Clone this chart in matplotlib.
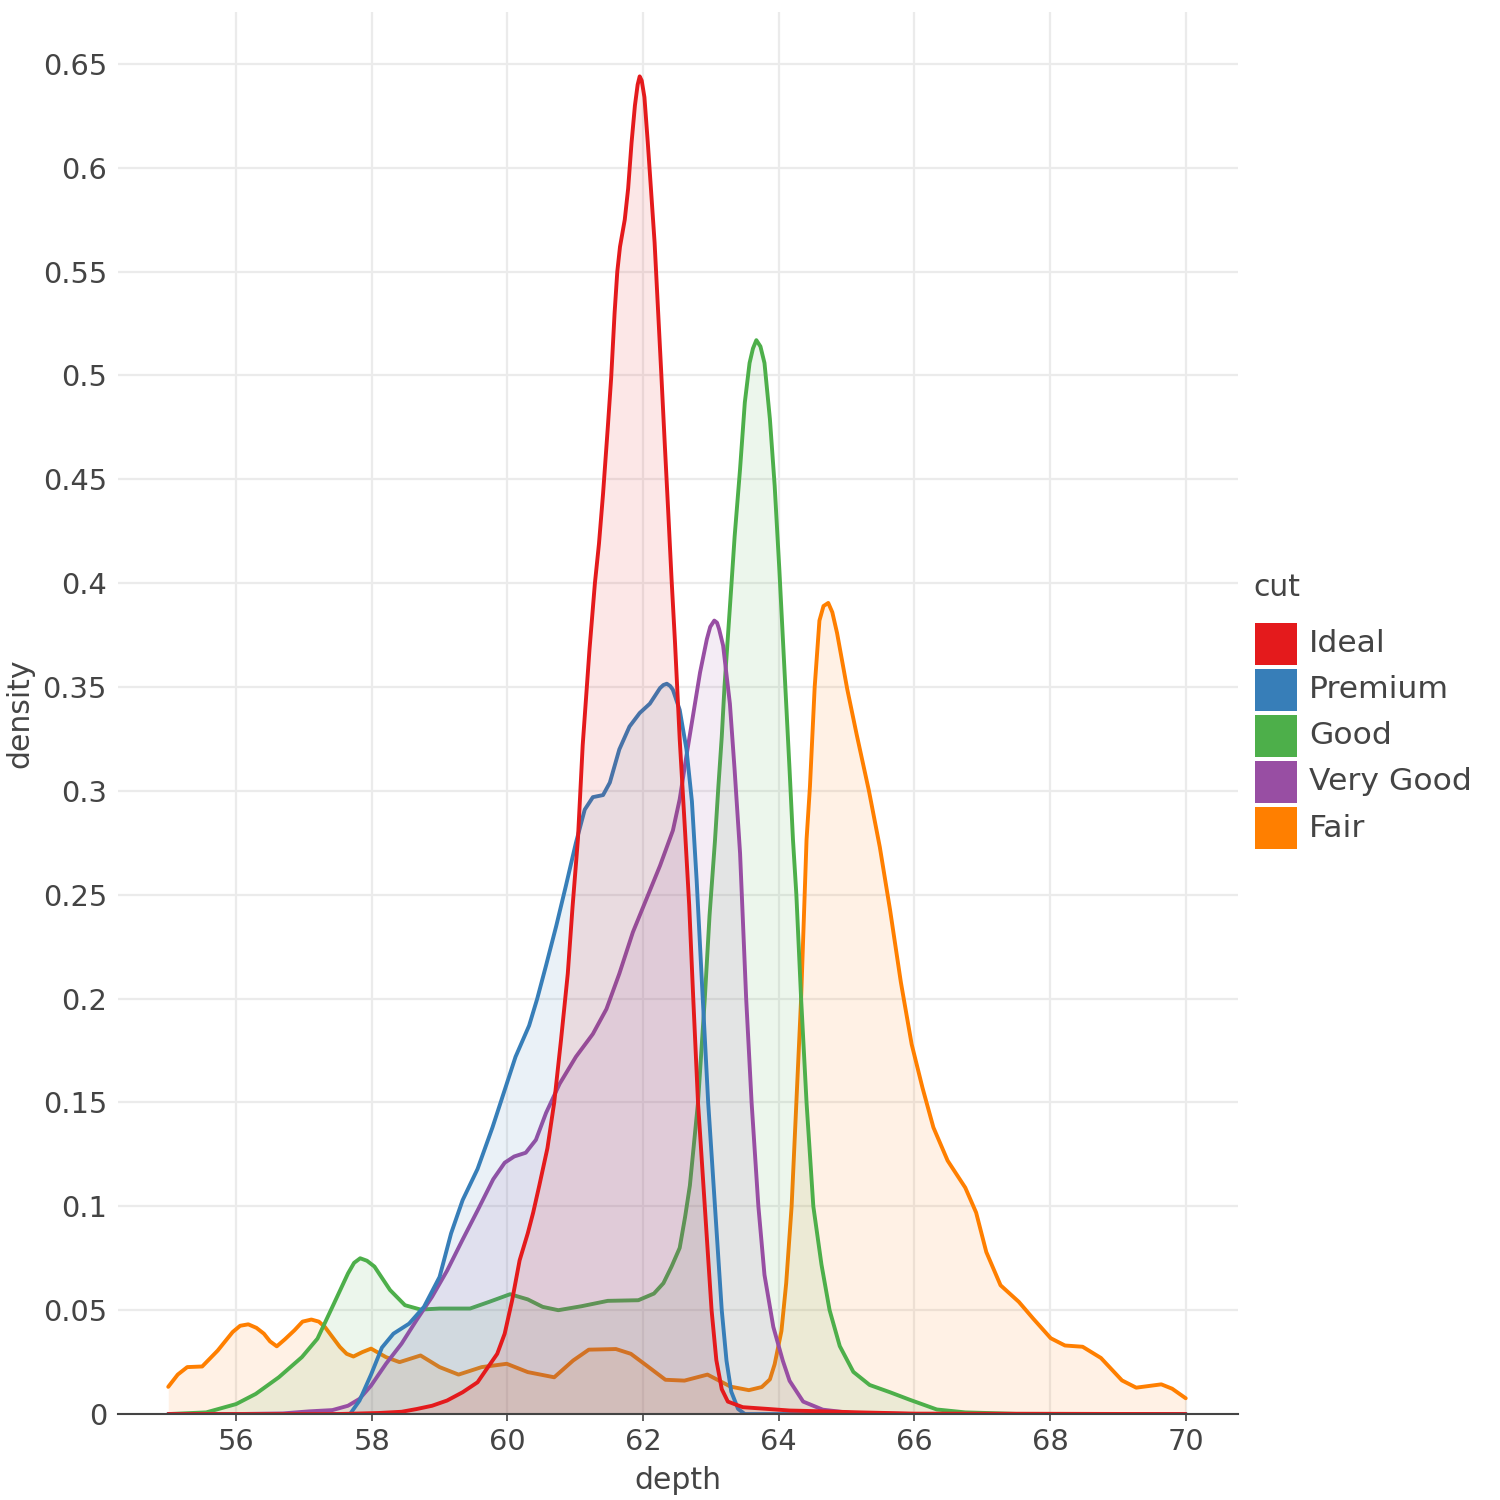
import matplotlib
matplotlib.use("Agg")
import matplotlib.pyplot as plt
from matplotlib.patches import Rectangle

# density of diamond depth by cut
ideal_x = [55.0, 57.5, 58.1, 58.44, 58.66, 58.89, 59.11, 59.34, 59.56, 59.68, 59.85,
           59.96, 60.07, 60.18, 60.30, 60.38, 60.47, 60.59, 60.69, 60.79, 60.89,
           60.96, 61.04, 61.11, 61.21, 61.29, 61.35, 61.41, 61.48, 61.53, 61.58,
           61.62, 61.66, 61.73, 61.78, 61.83, 61.88, 61.92, 61.95, 61.98, 62.02,
           62.07, 62.12, 62.17, 62.22, 62.27, 62.32, 62.37, 62.42, 62.47, 62.54,
           62.62, 62.68, 62.74, 62.81, 62.91, 63.01, 63.08, 63.16, 63.25, 63.47,
           63.82, 64.16, 64.65, 65.2, 66.0, 70.0]
ideal_y = [0.0, 0.0, 0.0005, 0.0011, 0.0024, 0.004, 0.0065, 0.0105, 0.0153, 0.021, 0.029,
           0.0387, 0.0548, 0.074, 0.087, 0.097, 0.110, 0.128, 0.15, 0.18, 0.212,
           0.244, 0.277, 0.322, 0.368, 0.400, 0.419, 0.443, 0.475, 0.499, 0.530,
           0.550, 0.562, 0.575, 0.590, 0.612, 0.630, 0.640, 0.644, 0.642, 0.634,
           0.612, 0.588, 0.564, 0.532, 0.5, 0.467, 0.435, 0.402, 0.372, 0.325,
           0.28, 0.245, 0.2, 0.15, 0.1, 0.05, 0.026, 0.012, 0.006, 0.0033,
           0.0025, 0.0017, 0.0013, 0.0008, 0.0002, 0.0]

premium_x = [55.0, 57.68, 57.82, 57.99, 58.15, 58.32, 58.55, 58.77, 59.0, 59.17, 59.34,
             59.56, 59.78, 59.98, 60.12, 60.32, 60.44, 60.57, 60.72, 60.86, 61.01,
             61.14, 61.26, 61.41, 61.51, 61.65, 61.80, 61.95, 62.10, 62.25, 62.30,
             62.35, 62.40, 62.44, 62.54, 62.64, 62.72, 62.79, 62.88, 62.96, 63.06,
             63.16, 63.23, 63.30, 63.40, 63.5, 70.0]
premium_y = [0.0, 0.0, 0.0065, 0.019, 0.032, 0.0387, 0.0435, 0.0516, 0.066, 0.087, 0.103,
             0.118, 0.138, 0.158, 0.172, 0.187, 0.2, 0.216, 0.235, 0.254, 0.275,
             0.291, 0.297, 0.298, 0.304, 0.32, 0.331, 0.3375, 0.342, 0.3495, 0.351,
             0.3516, 0.3505, 0.3487, 0.339, 0.32, 0.295, 0.257, 0.2, 0.15, 0.1,
             0.05, 0.0257, 0.0108, 0.0025, 0.0, 0.0]

good_x = [55.0, 55.56, 56.0, 56.29, 56.63, 56.97, 57.20, 57.42, 57.65, 57.74, 57.83,
          57.93, 58.04, 58.27, 58.49, 58.72, 59.0, 59.45, 59.73, 60.04, 60.30,
          60.52, 60.75, 61.09, 61.48, 61.93, 62.16, 62.30, 62.42, 62.54, 62.62,
          62.69, 62.75, 62.81, 62.91, 62.98, 63.06, 63.11, 63.16, 63.20, 63.25,
          63.30, 63.35, 63.43, 63.50, 63.57, 63.62, 63.67, 63.73, 63.79, 63.87,
          63.94, 64.01, 64.06, 64.11, 64.16, 64.21, 64.26, 64.33, 64.41, 64.51,
          64.63, 64.75, 64.90, 65.10, 65.34, 65.64, 65.93, 66.33, 66.75, 67.5, 70.0]
good_y = [0.0, 0.0008, 0.0048, 0.0097, 0.0177, 0.0274, 0.0363, 0.0516, 0.0677, 0.0728, 0.075,
          0.0738, 0.071, 0.0597, 0.0524, 0.0503, 0.0508, 0.0508, 0.054, 0.0577, 0.0552,
          0.0516, 0.05, 0.0519, 0.0545, 0.0548, 0.058, 0.063, 0.071, 0.08, 0.095,
          0.11, 0.13, 0.15, 0.2, 0.24, 0.276, 0.302, 0.326, 0.350, 0.374,
          0.398, 0.4225, 0.455, 0.487, 0.506, 0.513, 0.517, 0.514, 0.506, 0.479,
          0.447, 0.406, 0.374, 0.342, 0.31, 0.2765, 0.25, 0.2, 0.15, 0.1,
          0.072, 0.05, 0.0327, 0.0203, 0.014, 0.0105, 0.0069, 0.0022, 0.0008, 0.0001, 0.0]

verygood_x = [55.0, 56.0, 56.69, 57.08, 57.42, 57.65, 57.82, 57.99, 58.21, 58.44, 58.66,
              58.89, 59.11, 59.34, 59.56, 59.79, 59.96, 60.10, 60.27, 60.42, 60.57,
              60.77, 61.01, 61.26, 61.46, 61.65, 61.85, 62.05, 62.25, 62.44, 62.54,
              62.64, 62.74, 62.84, 62.94, 62.99, 63.05, 63.09, 63.12, 63.18, 63.28,
              63.35, 63.43, 63.52, 63.60, 63.70, 63.79, 63.92, 64.06, 64.16, 64.36,
              64.65, 65.07, 66.0, 70.0]
verygood_y = [0.0, 0.0, 0.0003, 0.0013, 0.0019, 0.004, 0.0073, 0.0137, 0.0242, 0.0339, 0.0452,
              0.0565, 0.069, 0.084, 0.098, 0.113, 0.121, 0.124, 0.1258, 0.132, 0.145,
              0.159, 0.172, 0.183, 0.195, 0.212, 0.232, 0.248, 0.264, 0.281, 0.296,
              0.317, 0.337, 0.357, 0.373, 0.379, 0.382, 0.381, 0.378, 0.37, 0.342,
              0.31, 0.27, 0.2, 0.15, 0.1, 0.067, 0.042, 0.0257, 0.016, 0.006,
              0.0021, 0.0005, 0.0, 0.0]

fair_x = [55.0, 55.14, 55.28, 55.50, 55.73, 55.95, 56.06, 56.18, 56.30, 56.41, 56.50,
          56.60, 56.72, 56.86, 56.98, 57.11, 57.22, 57.31, 57.53, 57.63, 57.73,
          57.86, 57.99, 58.21, 58.41, 58.72, 59.00, 59.28, 59.62, 59.99, 60.30,
          60.69, 60.97, 61.20, 61.60, 61.82, 62.05, 62.33, 62.61, 62.95, 63.29,
          63.56, 63.75, 63.87, 63.94, 64.04, 64.11, 64.19, 64.26, 64.33, 64.41,
          64.46, 64.53, 64.60, 64.66, 64.73, 64.79, 64.86, 65.01, 65.15, 65.33,
          65.49, 65.64, 65.80, 65.96, 66.12, 66.28, 66.49, 66.75, 66.91, 67.06,
          67.27, 67.54, 67.75, 68.01, 68.22, 68.48, 68.75, 69.06, 69.27, 69.64,
          69.80, 70.0]
fair_y = [0.0131, 0.019, 0.0226, 0.0229, 0.0306, 0.0395, 0.0425, 0.0432, 0.0415, 0.0387, 0.035,
          0.0326, 0.036, 0.0403, 0.0445, 0.0455, 0.0445, 0.0419, 0.0323, 0.029, 0.0277,
          0.0298, 0.0315, 0.0274, 0.025, 0.0282, 0.0226, 0.019, 0.0226, 0.0242, 0.0202,
          0.0177, 0.0258, 0.031, 0.0313, 0.029, 0.0234, 0.0165, 0.0161, 0.019, 0.0132,
          0.0115, 0.013, 0.0167, 0.024, 0.04, 0.063, 0.1, 0.15, 0.2, 0.2765,
          0.302, 0.35, 0.382, 0.389, 0.3905, 0.386, 0.376, 0.349, 0.327, 0.300,
          0.273, 0.243, 0.208, 0.178, 0.157, 0.138, 0.122, 0.109, 0.097, 0.078,
          0.062, 0.054, 0.046, 0.0365, 0.033, 0.0324, 0.027, 0.0162, 0.0127, 0.0143,
          0.0122, 0.0076]

cuts = ["Ideal", "Premium", "Good", "Very Good", "Fair"]
colors = ["#e41a1c", "#377eb8", "#4daf4a", "#984ea3", "#ff7f00"]
series = {
    "Ideal": (ideal_x, ideal_y),
    "Premium": (premium_x, premium_y),
    "Good": (good_x, good_y),
    "Very Good": (verygood_x, verygood_y),
    "Fair": (fair_x, fair_y),
}
draw_order = ["Fair", "Good", "Very Good", "Premium", "Ideal"]

text_col = "#444444"
plt.rcParams["font.family"] = ["DejaVu Sans"]

W = H = 1500
fig = plt.figure(figsize=(15, 15), dpi=100)
ax = fig.add_axes([0.0787, 0.0573, 0.7466, 0.9347])

for z, name in enumerate(draw_order):
    col = colors[cuts.index(name)]
    xs, ys = series[name]
    ax.fill_between(xs, ys, 0, color=col, alpha=0.1, linewidth=0, zorder=2 + 2 * z)
    ax.plot(xs, ys, color=col, lw=2.8, zorder=3 + 2 * z,
            solid_joinstyle="round", solid_capstyle="round")

ax.set_xlim(54.26, 70.77)
ax.set_ylim(0, 0.675)
ax.set_xticks(range(56, 71, 2))
yt = [i * 0.05 for i in range(14)]
ax.set_yticks(yt)
ax.set_yticklabels(["0"] + ["%g" % round(v, 2) for v in yt[1:]])

ax.grid(True, color="#ebebeb", lw=1.6, zorder=0)
ax.set_axisbelow(True)
for s in ["top", "right", "left"]:
    ax.spines[s].set_visible(False)
ax.spines["bottom"].set_color(text_col)
ax.spines["bottom"].set_linewidth(1.5)
ax.spines["bottom"].set_zorder(20)
ax.tick_params(axis="x", colors=text_col, labelsize=20.8, length=5, width=1.2, pad=5)
ax.tick_params(axis="y", colors=text_col, labelsize=20.8, length=0, pad=8)

ax.set_xlabel("depth", fontsize=21.5, color=text_col, labelpad=7)
ax.set_ylabel("density", fontsize=21.5, color=text_col, labelpad=6)

# legend, laid out by hand to match the boxed plotly style
fig.text(1253 / W, 1 - 588 / H, "cut", fontsize=21.5, color=text_col,
         ha="left", va="center")
for i, (name, col) in enumerate(zip(cuts, colors)):
    top = 623 + 46 * i
    fig.add_artist(Rectangle((1255 / W, 1 - (top + 42) / H), 42 / W, 42 / H,
                             transform=fig.transFigure, facecolor=col,
                             edgecolor="none"))
    fig.text(1309 / W, 1 - (top + 21) / H, name, fontsize=22.6, color=text_col,
             ha="left", va="center")

fig.savefig("out.png", dpi=100, facecolor="white")
